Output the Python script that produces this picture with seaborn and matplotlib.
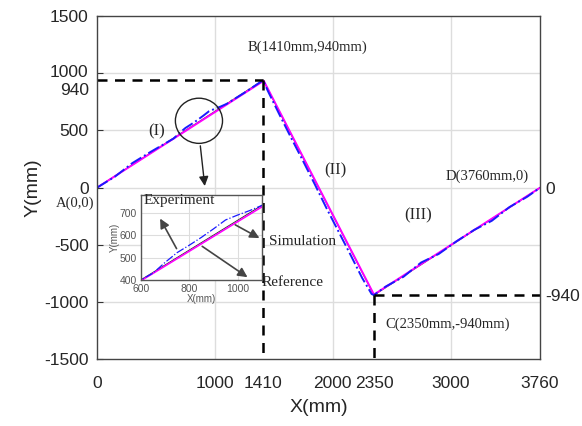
import numpy as np
import pandas as pd
import matplotlib
matplotlib.use("Agg")
import matplotlib.pyplot as plt
import matplotlib.transforms as mtrans
from matplotlib.patches import Ellipse
import seaborn as sns

# =====================================================
# Data
# =====================================================

ref_x = [0, 1410, 2350, 3760]
ref_y = [0, 940, -940, 0]

sim_x = [0, 700, 1415, 1880, 2350, 3050, 3760]
sim_y = [0, 462, 935, 5, -935, -470, 0]

exp_x = [0, 150, 300, 450, 600, 650, 700, 750, 800, 850, 900, 950, 1000,
         1050, 1100, 1250, 1410, 1450, 1550, 1650, 1750, 1850, 1950, 2050,
         2150, 2250, 2330, 2350, 2450, 2600, 2750, 2900, 3050, 3200, 3350,
         3500, 3650, 3760]
exp_y = [0, 95, 215, 310, 400, 430, 478, 522, 555, 590, 628, 668, 690,
         710, 733, 830, 940, 845, 635, 430, 230, 25, -185, -385,
         -585, -790, -930, -940, -865, -780, -655, -580, -470, -370, -290,
         -170, -80, 0]

x_ticks = [0, 1000, 1410, 2000, 2350, 3000, 3760]
y_ticks = [1500, 1000, 940, 500, 0, -500, -1000, -1500]
right_ticks = [0, -940]

df_ref = pd.DataFrame({"x": ref_x, "y": ref_y})
df_sim = pd.DataFrame({"x": sim_x, "y": sim_y})
df_exp = pd.DataFrame({"x": exp_x, "y": exp_y})

# =====================================================
# Style
# =====================================================

sns.set_style("whitegrid")
plt.rcParams["font.family"] = ["Liberation Sans", "DejaVu Sans"]
plt.rcParams["axes.unicode_minus"] = False
serif = ["Liberation Serif", "DejaVu Serif"]

fig = plt.figure(figsize=(5.82, 4.26), dpi=100)
ax = fig.add_axes([0.1667, 0.157, 0.7613, 0.805])


def draw_lines(a, lw_sim=1.4, lw_exp=1.4, lw_ref=0.8):
    sns.lineplot(data=df_ref, x="x", y="y", ax=a, color="#333333",
                 lw=lw_ref, sort=False, estimator=None)
    sns.lineplot(data=df_sim, x="x", y="y", ax=a, color="#ff00ff",
                 lw=lw_sim, sort=False, estimator=None)
    sns.lineplot(data=df_exp, x="x", y="y", ax=a, color="#1a1aff",
                 lw=lw_exp, sort=False, estimator=None, linestyle="-.")


draw_lines(ax)

# dashed guides
ax.plot([0, 1410], [940, 940], "k--", lw=1.8, dashes=(4, 3))
ax.plot([1410, 1410], [940, -1500], "k--", lw=1.8, dashes=(4, 3))
ax.plot([2350, 2350], [-940, -1500], "k--", lw=1.8, dashes=(4, 3))
ax.plot([2350, 3760], [-940, -940], "k--", lw=1.8, dashes=(4, 3))

ax.set_xlim(0, 3760)
ax.set_ylim(-1500, 1500)
ax.set_xticks(x_ticks)
ax.set_yticks(y_ticks)
ax.grid(False)
for gx in [1000, 2000, 3000]:
    ax.axvline(gx, color="#dddddd", lw=1, zorder=0)
for gy in [1000, 500, 0, -500, -1000]:
    ax.axhline(gy, color="#dddddd", lw=1, zorder=0)
ax.tick_params(axis="both", direction="in", length=4, labelsize=12.5,
               color="#333333")
ax.tick_params(axis="x", pad=12)
ax.tick_params(axis="y", pad=6)
for s in ax.spines.values():
    s.set_color("#444444")
    s.set_linewidth(1.0)
ax.set_xlabel("X(mm)", fontsize=14, labelpad=6)
ax.set_ylabel("Y(mm)", fontsize=14, labelpad=2)

# nudge the crowded 1000 / 940 labels apart
for lab, val in zip(ax.get_yticklabels(), y_ticks):
    if val == 1000:
        dy = 2
    elif val == 940:
        dy = -6
    else:
        continue
    lab.set_transform(lab.get_transform() +
                      mtrans.ScaledTranslation(0, dy / 72, fig.dpi_scale_trans))

axr = ax.twinx()
axr.set_ylim(-1500, 1500)
axr.set_yticks(right_ticks)
axr.tick_params(axis="y", length=0, labelsize=12.5, pad=4)
axr.grid(False)
for s in axr.spines.values():
    s.set_visible(False)

# =====================================================
# Annotations
# =====================================================

ax.text(1282, 1228, "B(1410mm,940mm)", family=serif, fontsize=10.5,
        va="center")
ax.text(-20, -140, "A(0,0)", family=serif, fontsize=10.5, ha="right",
        va="center", clip_on=False)
ax.text(509, 491, "(I)", family=serif, fontsize=12, ha="center", va="center")
ax.text(2020, 149, "(II)", family=serif, fontsize=12, ha="center",
        va="center")
ax.text(2725, -245, "(III)", family=serif, fontsize=12, ha="center",
        va="center")
ax.text(2954, 96, "D(3760mm,0)", family=serif, fontsize=10.5, va="center")
ax.text(2445, -1193, "C(2350mm,-940mm)", family=serif, fontsize=10.5,
        va="center")

ax.add_patch(Ellipse((865, 585), 400, 395, fill=False, ec="#222222",
                     lw=1.0, zorder=5))
ax.annotate("", xy=(917, -10), xytext=(874, 390),
            arrowprops=dict(arrowstyle="-|>", color="#222222", lw=1.0,
                            mutation_scale=14))

# =====================================================
# Inset
# =====================================================

ins = fig.add_axes([0.242, 0.343, 0.208, 0.1995])
ins.set_facecolor("white")
draw_lines(ins, lw_sim=1.2, lw_exp=0.9, lw_ref=0.7)
ins.set_xlim(600, 1100)
ins.set_ylim(400, 780)
ins.set_xticks([600, 800, 1000])
ins.set_yticks([400, 500, 600, 700])
ins.grid(True, color="#dddddd", lw=0.8)
ins.tick_params(axis="both", labelsize=7.5, length=0, pad=3,
                labelcolor="#555555")
for s in ins.spines.values():
    s.set_color("#555555")
    s.set_linewidth(1.0)
ins.set_xlabel("X(mm)", fontsize=7, color="#555555", labelpad=0)
ins.set_ylabel("Y(mm)", fontsize=7, color="#555555", labelpad=0)

ins.text(612, 757, "Experiment", family=serif, fontsize=11, va="center")
arrow_kw = dict(arrowstyle="-|>", color="#444444", lw=1.2,
                mutation_scale=14)
ins.annotate("", xy=(674, 685), xytext=(753, 529), arrowprops=arrow_kw,
             annotation_clip=False)
ins.annotate("", xy=(1100, 581), xytext=(980, 652), arrowprops=arrow_kw,
             annotation_clip=False)
ins.annotate("", xy=(1050, 405), xytext=(844, 557), arrowprops=arrow_kw,
             annotation_clip=False)
ins.text(1130, 570, "Simulation", family=serif, fontsize=11, va="center",
         clip_on=False)
ins.text(1100, 390, "Reference", family=serif, fontsize=11, va="center",
         clip_on=False)

fig.savefig("out.png", dpi=100)
